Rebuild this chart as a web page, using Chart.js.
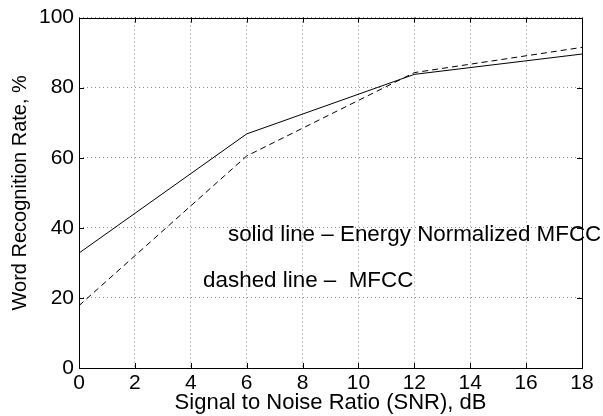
<!DOCTYPE html>
<html lang="en">
<head>
    <meta charset="UTF-8">
    <title>Word Recognition Rate vs SNR</title>
    <script src="https://cdn.jsdelivr.net/npm/chart.js@4.4.0/dist/chart.umd.min.js"></script>
    <style>
        body { margin: 0; background: #ffffff; }
        #wrap { width: 603px; height: 416px; }
    </style>
</head>
<body>
    <div id="wrap"><canvas id="snrChart"></canvas></div>
    <script>
        // data
        const snrDb = [0, 6, 12, 18];
        const energyNormMfcc = [32.8, 66.8, 83.8, 89.6];
        const plainMfcc = [17.8, 60.5, 84.3, 91.5];
        const xTickStep = 2;
        const yTickStep = 20;

        const font = 'Liberation Sans, Arial, Helvetica, sans-serif';

        // matlab-ish frame with inward ticks on all four sides
        const framePlugin = {
            id: 'frame',
            afterDraw(chart) {
                const { ctx, chartArea: a, scales: { x, y } } = chart;
                ctx.save();
                ctx.strokeStyle = '#000';
                ctx.lineWidth = 1;
                ctx.beginPath();
                x.ticks.forEach(t => {
                    const px = Math.round(x.getPixelForValue(t.value)) + 0.5;
                    ctx.moveTo(px, a.bottom); ctx.lineTo(px, a.bottom - 5);
                    ctx.moveTo(px, a.top); ctx.lineTo(px, a.top + 5);
                });
                y.ticks.forEach(t => {
                    const py = Math.round(y.getPixelForValue(t.value)) + 0.5;
                    ctx.moveTo(a.left, py); ctx.lineTo(a.left + 5, py);
                    ctx.moveTo(a.right, py); ctx.lineTo(a.right - 5, py);
                });
                ctx.stroke();
                ctx.strokeRect(Math.round(a.left) + 0.5, Math.round(a.top) + 0.5,
                    Math.round(a.right - a.left), Math.round(a.bottom - a.top));

                // text notes inside the axes
                ctx.fillStyle = '#000';
                ctx.font = '22.4px ' + font;
                ctx.textBaseline = 'alphabetic';
                ctx.fillText('solid line \u2013 Energy Normalized MFCC', x.getPixelForValue(5.33), y.getPixelForValue(36.3));
                ctx.fillText('dashed line \u2013  MFCC', x.getPixelForValue(4.44), y.getPixelForValue(23.2));
                ctx.restore();
            }
        };

        const ctx = document.getElementById('snrChart').getContext('2d');
        new Chart(ctx, {
            type: 'line',
            data: {
                datasets: [{
                    label: 'Energy Normalized MFCC',
                    data: snrDb.map((v, i) => ({ x: v, y: energyNormMfcc[i] })),
                    borderColor: '#000',
                    borderWidth: 1,
                    pointRadius: 0,
                    tension: 0,
                    fill: false
                }, {
                    label: 'MFCC',
                    data: snrDb.map((v, i) => ({ x: v, y: plainMfcc[i] })),
                    borderColor: '#000',
                    borderWidth: 1,
                    borderDash: [6, 4],
                    pointRadius: 0,
                    tension: 0,
                    fill: false
                }]
            },
            options: {
                responsive: true,
                maintainAspectRatio: false,
                animation: false,
                layout: { padding: { top: 15, right: 21, left: 0, bottom: 0 } },
                plugins: {
                    legend: { display: false },
                    tooltip: { enabled: false }
                },
                scales: {
                    x: {
                        type: 'linear',
                        min: 0,
                        max: 18,
                        ticks: { stepSize: xTickStep, color: '#000', padding: 3, maxRotation: 0, font: { family: font, size: 21 } },
                        grid: { color: '#8c8c8c', drawTicks: false },
                        border: { display: false, dash: [1, 3] },
                        title: {
                            display: true,
                            text: 'Signal to Noise Ratio (SNR), dB',
                            color: '#000',
                            font: { family: font, size: 22 },
                            padding: { top: 2, bottom: 0 }
                        },
                        afterFit(s) { s.height = 48; }
                    },
                    y: {
                        min: 0,
                        max: 100,
                        ticks: { stepSize: yTickStep, color: '#000', padding: 5, font: { family: font, size: 21 } },
                        grid: { color: '#8c8c8c', drawTicks: false },
                        border: { display: false, dash: [1, 3] },
                        title: {
                            display: true,
                            text: 'Word Recognition Rate, %',
                            color: '#000',
                            font: { family: font, size: 20 },
                            padding: { top: 8, bottom: 0 }
                        },
                        afterFit(s) { s.width = 79; }
                    }
                }
            },
            plugins: [framePlugin]
        });
    </script>
</body>
</html>
